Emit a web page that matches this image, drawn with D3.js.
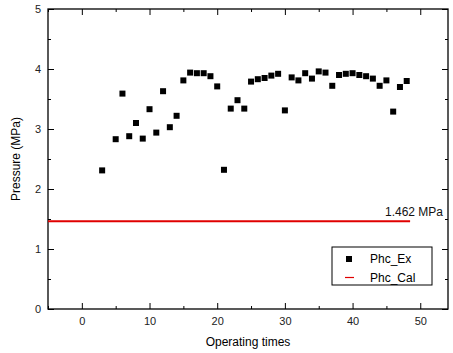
<!DOCTYPE html>
<html>
<head>
<meta charset="utf-8">
<script src="https://cdn.jsdelivr.net/npm/d3@7"></script>
<style>
  body { margin: 0; background: #fff; }
  svg { display: block; font-family: "Liberation Sans", Arial, sans-serif; }
</style>
</head>
<body>
<div id="chart"></div>
<script>
// experimental pressure per operating time
const runs = [3, 5, 6, 7, 8, 9, 10, 11, 12, 13, 14, 15, 16, 17, 18, 19, 20, 21, 22, 23, 24, 25,
  26, 27, 28, 29, 30, 31, 32, 33, 34, 35, 36, 37, 38, 39, 40, 41, 42, 43, 44, 45, 46, 47, 48];
const phcEx = [2.31, 2.83, 3.59, 2.88, 3.10, 2.84, 3.33, 2.94, 3.63, 3.03, 3.22, 3.81, 3.94, 3.93,
  3.93, 3.88, 3.71, 2.32, 3.34, 3.48, 3.34, 3.79, 3.83, 3.85, 3.89, 3.92, 3.31, 3.86, 3.81, 3.93,
  3.84, 3.96, 3.94, 3.72, 3.90, 3.92, 3.93, 3.90, 3.88, 3.84, 3.72, 3.81, 3.29, 3.70, 3.80];
const phcCal = 1.462;
const calRange = [-5, 48.5];
const xTicks = [0, 10, 20, 30, 40, 50];
const yTicks = [0, 1, 2, 3, 4, 5];

const width = 453, height = 353;
const margin = { top: 9, right: 5, bottom: 44, left: 48 };

const x = d3.scaleLinear([-5, 54.1], [margin.left, width - margin.right]);
const y = d3.scaleLinear([0, 5], [height - margin.bottom, margin.top]);

const svg = d3.select('#chart').append('svg')
  .attr('width', width).attr('height', height);

const x0 = margin.left, x1 = width - margin.right;
const y0 = height - margin.bottom, y1 = margin.top;

// minor ticks
const xMinor = d3.range(-5, 55, 5).filter(v => v % 10 !== 0);
const yMinor = d3.range(0.5, 5, 1);

function styleAxis(g) {
  g.select('.domain').remove();
  g.selectAll('.tick line').attr('stroke', '#000').attr('stroke-width', 1);
  g.selectAll('.tick text').attr('fill', '#222').style('font-size', '11px');
}

// bottom
svg.append('g').attr('transform', `translate(0,${y0})`)
  .call(d3.axisBottom(x).tickValues(xTicks).tickSizeInner(-6).tickSizeOuter(0).tickPadding(8))
  .call(styleAxis);
svg.append('g').attr('transform', `translate(0,${y0})`)
  .call(d3.axisBottom(x).tickValues(xMinor).tickSize(-3).tickFormat(''))
  .call(styleAxis);
// top
svg.append('g').attr('transform', `translate(0,${y1})`)
  .call(d3.axisTop(x).tickValues(xTicks).tickSize(-6).tickFormat(''))
  .call(styleAxis);
svg.append('g').attr('transform', `translate(0,${y1})`)
  .call(d3.axisTop(x).tickValues(xMinor).tickSize(-3).tickFormat(''))
  .call(styleAxis);
// left
svg.append('g').attr('transform', `translate(${x0},0)`)
  .call(d3.axisLeft(y).tickValues(yTicks).tickFormat(d3.format('d'))
    .tickSizeInner(-6).tickSizeOuter(0).tickPadding(7))
  .call(styleAxis);
svg.append('g').attr('transform', `translate(${x0},0)`)
  .call(d3.axisLeft(y).tickValues(yMinor).tickSize(-3).tickFormat(''))
  .call(styleAxis);
// right
svg.append('g').attr('transform', `translate(${x1},0)`)
  .call(d3.axisRight(y).tickValues(yTicks).tickSize(-6).tickFormat(''))
  .call(styleAxis);
svg.append('g').attr('transform', `translate(${x1},0)`)
  .call(d3.axisRight(y).tickValues(yMinor).tickSize(-3).tickFormat(''))
  .call(styleAxis);

// frame
svg.append('rect')
  .attr('x', x0).attr('y', y1).attr('width', x1 - x0).attr('height', y0 - y1)
  .attr('fill', 'none').attr('stroke', '#000').attr('stroke-width', 1.3);

// calculated line
svg.append('line')
  .attr('x1', x(calRange[0])).attr('x2', x(calRange[1]))
  .attr('y1', y(phcCal)).attr('y2', y(phcCal))
  .attr('stroke', '#e00000').attr('stroke-width', 2);

svg.append('text')
  .attr('x', 443).attr('y', y(phcCal) - 5)
  .attr('text-anchor', 'end')
  .style('font-size', '12px').attr('fill', '#111')
  .text(d3.format('.3f')(phcCal) + ' MPa');

// experimental points
const s = 6;
svg.append('g').selectAll('rect')
  .data(runs.map((r, i) => [r, phcEx[i]]))
  .join('rect')
  .attr('x', d => x(d[0]) - s / 2)
  .attr('y', d => y(d[1]) - s / 2)
  .attr('width', s).attr('height', s)
  .attr('fill', '#000');

// legend
const lg = svg.append('g').attr('transform', 'translate(332,247)');
lg.append('rect').attr('width', 100).attr('height', 38)
  .attr('fill', '#fff').attr('stroke', '#000').attr('stroke-width', 1);
lg.append('rect').attr('x', 14).attr('y', 9).attr('width', 6).attr('height', 6).attr('fill', '#000');
lg.append('line').attr('x1', 13).attr('x2', 22).attr('y1', 30.5).attr('y2', 30.5)
  .attr('stroke', '#e00000').attr('stroke-width', 1.2);
lg.append('text').attr('x', 38).attr('y', 16).style('font-size', '12px').text('Phc_Ex');
lg.append('text').attr('x', 38).attr('y', 35).style('font-size', '12px').text('Phc_Cal');

// axis titles
svg.append('text')
  .attr('x', (x0 + x1) / 2).attr('y', 346)
  .attr('text-anchor', 'middle').style('font-size', '12px')
  .text('Operating times');
svg.append('text')
  .attr('transform', `translate(20,${(y0 + y1) / 2}) rotate(-90)`)
  .attr('text-anchor', 'middle').style('font-size', '12px')
  .text('Pressure (MPa)');
</script>
</body>
</html>
